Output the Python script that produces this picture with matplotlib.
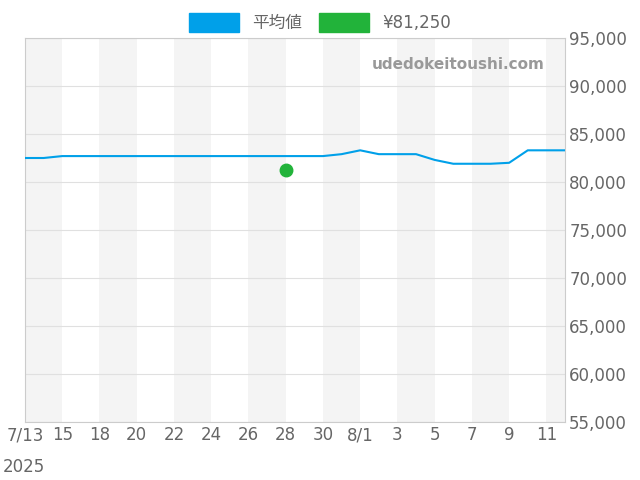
import matplotlib.pyplot as plt
from matplotlib.patches import Patch

plt.rcParams['font.family'] = ['DejaVu Sans', 'Noto Sans CJK JP']

# data dates (7/17 missing in the source series)
dates = ["7/13", "7/14", "7/15", "7/16", "7/18", "7/19", "7/20", "7/21", "7/22", "7/23",
         "7/24", "7/25", "7/26", "7/27", "7/28", "7/29", "7/30", "7/31", "8/1", "8/2",
         "8/3", "8/4", "8/5", "8/6", "8/7", "8/8", "8/9", "8/10", "8/11", "8/12"]
avg_price = [82500, 82500, 82700, 82700, 82700, 82700, 82700, 82700, 82700, 82700,
             82700, 82700, 82700, 82700, 82700, 82700, 82700, 82900, 83300, 82900,
             82900, 82900, 82300, 81900, 81900, 81900, 82000, 83300, 83300, 83300]
tick_labels = ["7/13", "15", "18", "20", "22", "24", "26", "28", "30", "8/1",
               "3", "5", "7", "9", "11"]
point_date = "7/28"
point_price = 81250

x = list(range(len(dates)))
fig = plt.figure(figsize=(6.4, 4.8), dpi=100)
ax = fig.add_axes([25 / 640, 58 / 480, 540 / 640, 384 / 480])

for i in range(0, len(dates), 4):
    ax.axvspan(i, min(i + 2, len(dates) - 1), color="#f4f4f4", zorder=0, lw=0)

ax.plot(x, avg_price, color="#00a0e9", lw=1.5, zorder=3)
ax.plot(dates.index(point_date), point_price, "o", color="#22b33a", ms=9, zorder=4)

ax.set_xlim(0, len(dates) - 1)
ax.set_ylim(55000, 95000)
ax.set_xticks(x[::2])
ax.set_xticklabels(tick_labels)
ax.yaxis.tick_right()
ax.set_yticks(range(55000, 95001, 5000))
ax.yaxis.set_major_formatter(lambda v, p: f"{int(v):,}")
ax.grid(axis="y", color="#e0e0e0", lw=0.8)
ax.tick_params(colors="#666666", labelsize=12, length=0, pad=3)
for s in ax.spines.values():
    s.set_color("#cccccc")
fig.text(3 / 640, 1 - 458 / 480, "2025", ha="left", va="top",
         color="#666666", fontsize=12)
ax.text(0.962, 0.93, "udedokeitoushi.com", transform=ax.transAxes, ha="right",
        va="center", color="#999999", fontsize=11, fontweight="bold")

handles = [Patch(color="#00a0e9"), Patch(color="#22b33a")]
fig.legend(handles, ["平均値", "¥81,250"], loc="upper center", ncol=2,
           bbox_to_anchor=(0.5, 1.005), frameon=False, fontsize=12,
           handlelength=3, handleheight=1.4, labelcolor="#666666", columnspacing=1.0)

fig.savefig("out.png", dpi=100)
